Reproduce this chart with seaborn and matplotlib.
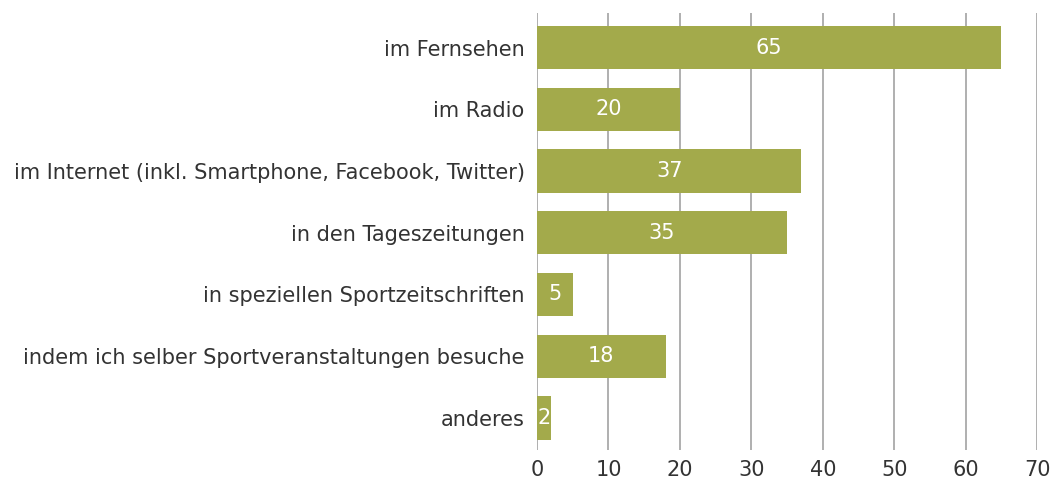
import pandas as pd
import matplotlib
matplotlib.use("Agg")
import matplotlib.pyplot as plt
import seaborn as sns

categories = [
    "im Fernsehen",
    "im Radio",
    "im Internet (inkl. Smartphone, Facebook, Twitter)",
    "in den Tageszeitungen",
    "in speziellen Sportzeitschriften",
    "indem ich selber Sportveranstaltungen besuche",
    "anderes",
]
values = [65, 20, 37, 35, 5, 18, 2]
x_ticks = [0, 10, 20, 30, 40, 50, 60, 70]

df = pd.DataFrame({"category": categories, "value": values})

sns.set_theme(style="white")
plt.rcParams["font.family"] = ["DejaVu Sans"]

fig = plt.figure(figsize=(10.51, 4.8), dpi=100)
ax = fig.add_axes([0.511, 0.0625, 0.4757, 0.9105])

sns.barplot(data=df, x="value", y="category", color="#a3aa4b",
            saturation=1, width=0.7, linewidth=0, ax=ax, zorder=3)

ax.set_xlim(0, 70)
ax.set_ylim(6.52, -0.56)
ax.set_xticks(x_ticks)
ax.xaxis.grid(True, color="#9a9a9a", linewidth=1.1, zorder=0)
ax.set_axisbelow(True)
for s in ax.spines.values():
    s.set_visible(False)
ax.tick_params(axis="both", length=0, labelsize=15, colors="#333333")
ax.tick_params(axis="y", pad=9)
ax.tick_params(axis="x", pad=7)
ax.set_xlabel("")
ax.set_ylabel("")

for i, v in enumerate(values):
    ax.text(v / 2, i, str(v), ha="center", va="center", color="white",
            fontsize=15, zorder=4)

fig.savefig("out.png", dpi=100)
